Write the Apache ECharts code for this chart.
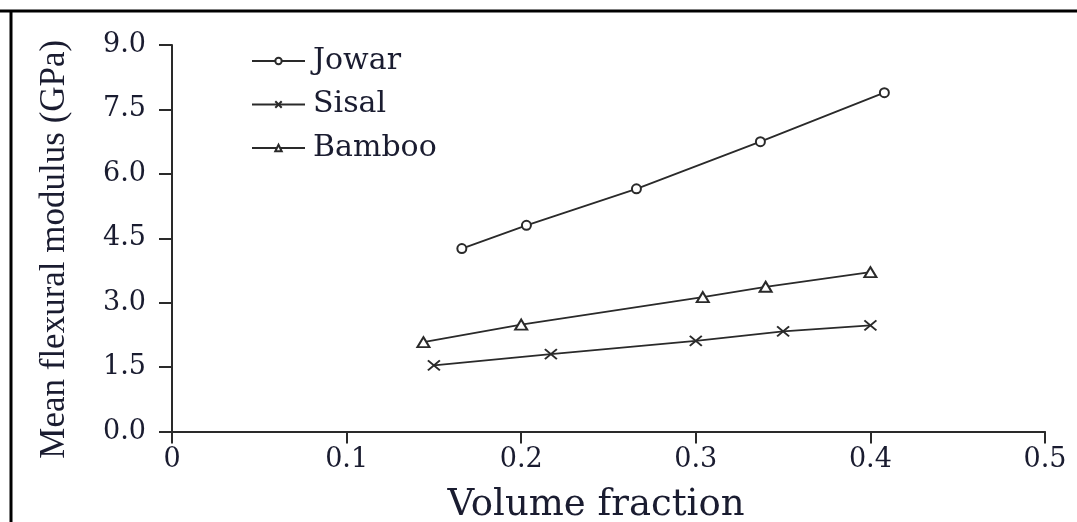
<!DOCTYPE html>
<html>
<head>
<meta charset="utf-8">
<script src="https://cdn.jsdelivr.net/npm/echarts@6/dist/echarts.min.js"></script>
<style>
html,body{margin:0;padding:0;background:#fff;}
#chart{width:1077px;height:522px;}
</style>
</head>
<body>
<div id="chart"></div>
<script>
const seriesNames = ['Jowar', 'Sisal', 'Bamboo'];
const jowarX = [0.166, 0.203, 0.266, 0.337, 0.408];
const jowarY = [4.26, 4.80, 5.65, 6.75, 7.89];
const sisalX = [0.150, 0.217, 0.300, 0.350, 0.400];
const sisalY = [1.54, 1.80, 2.11, 2.33, 2.47];
const bambooX = [0.144, 0.200, 0.304, 0.340, 0.400];
const bambooY = [2.08, 2.49, 3.13, 3.37, 3.71];
const xTicks = [0, 0.1, 0.2, 0.3, 0.4, 0.5];
const yTicks = [0, 1.5, 3.0, 4.5, 6.0, 7.5, 9.0];
const xTitle = 'Volume fraction';
const yTitle = 'Mean flexural modulus (GPa)';

const pairs = (xs, ys) => xs.map((x, i) => [x, ys[i]]);
const textColor = '#1a1c30';
const lineColor = '#2a2a2a';
const serif = 'DejaVu Serif';

const chart = echarts.init(document.getElementById('chart'));
const common = {
  type: 'line',
  color: lineColor,
  lineStyle: { color: lineColor, width: 1.8 },
  showSymbol: true,
  animation: false
};
chart.setOption({
  animation: false,
  backgroundColor: '#fff',
  grid: { left: 172, right: 32, top: 45, bottom: 90.5, containLabel: false, outerBoundsMode: 'none' },
  xAxis: {
    type: 'value',
    min: xTicks[0], max: xTicks[xTicks.length - 1], interval: 0.1,
    name: xTitle, nameLocation: 'middle', nameGap: 55,
    nameTextStyle: { fontFamily: serif, fontSize: 37, color: textColor, padding: [0, 25, 0, 0] },
    axisLine: { lineStyle: { color: lineColor, width: 2 } },
    axisTick: { show: true, length: 12, lineStyle: { color: lineColor, width: 2 } },
    axisLabel: { fontFamily: serif, fontSize: 27, color: textColor, margin: 15,
      formatter: v => (Math.abs(v) < 1e-9 ? '0' : String(+v.toFixed(1))) },
    splitLine: { show: false }
  },
  yAxis: {
    type: 'value',
    min: yTicks[0], max: yTicks[yTicks.length - 1], interval: 1.5,
    name: yTitle, nameLocation: 'middle', nameGap: 100, nameRotate: 90,
    nameTextStyle: { fontFamily: 'Liberation Serif', fontSize: 35, color: textColor, padding: [0, 22, 0, 0] },
    axisLine: { show: true, lineStyle: { color: lineColor, width: 2 } },
    axisTick: { show: true, length: 13, lineStyle: { color: lineColor, width: 2 } },
    axisLabel: { fontFamily: serif, fontSize: 27, color: textColor, margin: 26,
      formatter: v => v.toFixed(1) },
    splitLine: { show: false }
  },
  legend: {
    orient: 'vertical', left: 251, top: 46, padding: 0,
    itemWidth: 53, itemHeight: 8, itemGap: 13.5,
    textStyle: { fontFamily: serif, fontSize: 30, color: textColor, lineHeight: 30, padding: [0, 0, 0, 3] },
    data: seriesNames
  },
  graphic: [
    { type: 'line', shape: { x1: 0, y1: 11, x2: 1077, y2: 11 }, style: { stroke: '#000', lineWidth: 3 } },
    { type: 'line', shape: { x1: 11, y1: 10, x2: 11, y2: 522 }, style: { stroke: '#000', lineWidth: 3 } }
  ],
  series: [
    Object.assign({}, common, {
      name: seriesNames[0], data: pairs(jowarX, jowarY),
      symbol: 'emptyCircle', symbolSize: 9,
      itemStyle: { color: lineColor, borderColor: lineColor, borderWidth: 1.8 }
    }),
    Object.assign({}, common, {
      name: seriesNames[1], data: pairs(sisalX, sisalY),
      symbol: 'path://M0,0L12,10M12,0L0,10', symbolSize: [12, 10],
      itemStyle: { color: lineColor, borderColor: lineColor, borderWidth: 1.8 }
    }),
    Object.assign({}, common, {
      name: seriesNames[2], data: pairs(bambooX, bambooY),
      symbol: 'emptyTriangle', symbolSize: [12, 10],
      itemStyle: { color: lineColor, borderColor: lineColor, borderWidth: 1.8 }
    })
  ]
});
</script>
</body>
</html>
